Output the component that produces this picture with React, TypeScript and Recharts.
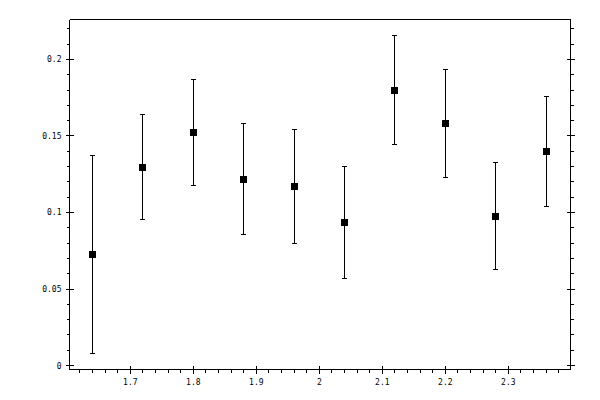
import { ScatterChart, Scatter, XAxis, YAxis, ErrorBar } from "recharts";

// measured points
const xValues = [1.64, 1.72, 1.8, 1.88, 1.96, 2.04, 2.12, 2.2, 2.28, 2.36];
const yValues = [0.0727, 0.1295, 0.1524, 0.1217, 0.1171, 0.0936, 0.1799, 0.1583, 0.0975, 0.14];
const yErrors = [0.0646, 0.0343, 0.0345, 0.0363, 0.0371, 0.0365, 0.0358, 0.0353, 0.0349, 0.0358];

// axis ticks
const xMajorTicks = [1.7, 1.8, 1.9, 2, 2.1, 2.2, 2.3];
const xMinorTicks = [
    1.62, 1.64, 1.66, 1.68, 1.72, 1.74, 1.76, 1.78, 1.82, 1.84, 1.86, 1.88,
    1.92, 1.94, 1.96, 1.98, 2.02, 2.04, 2.06, 2.08, 2.12, 2.14, 2.16, 2.18,
    2.22, 2.24, 2.26, 2.28, 2.32, 2.34, 2.36, 2.38,
];
const yMajorTicks = [0, 0.05, 0.1, 0.15, 0.2];
const yMinorTicks = [
    0.01, 0.02, 0.03, 0.04, 0.06, 0.07, 0.08, 0.09, 0.11, 0.12, 0.13, 0.14,
    0.16, 0.17, 0.18, 0.19, 0.21, 0.22,
];

const xDomain: [number, number] = [1.6035, 2.3987];
const yDomain: [number, number] = [-0.0026, 0.2261];

const xTicks = [...xMajorTicks, ...xMinorTicks].sort((a, b) => a - b);
const yTicks = [...yMajorTicks, ...yMinorTicks].sort((a, b) => a - b);

const data = xValues.map((x, i) => ({ x, y: yValues[i], err: yErrors[i] }));

type Side = "bottom" | "top" | "left" | "right";

const makeTick = (side: Side, majors: number[], showLabel: boolean) => (props: any) => {
    const { x, y, payload } = props;
    const major = majors.includes(payload.value);
    const line = { stroke: "#000", strokeWidth: 1, shapeRendering: "crispEdges" as const };
    let tick;
    if (side === "bottom") {
        tick = major ? <line x1={x} x2={x} y1={y - 4} y2={y + 4} {...line} /> : <line x1={x} x2={x} y1={y} y2={y + 3} {...line} />;
    } else if (side === "top") {
        tick = major ? <line x1={x} x2={x} y1={y - 4} y2={y + 4} {...line} /> : <line x1={x} x2={x} y1={y - 3} y2={y} {...line} />;
    } else if (side === "left") {
        tick = major ? <line x1={x - 4} x2={x + 4} y1={y} y2={y} {...line} /> : <line x1={x - 3} x2={x} y1={y} y2={y} {...line} />;
    } else {
        tick = major ? <line x1={x - 4} x2={x + 4} y1={y} y2={y} {...line} /> : <line x1={x} x2={x + 3} y1={y} y2={y} {...line} />;
    }
    let label = null;
    if (showLabel && major) {
        if (side === "bottom") {
            label = (
                <text x={x} y={y + 15} textAnchor="middle" fontSize={8} fill="#000" fontFamily="DejaVu Sans Mono">
                    {String(payload.value)}
                </text>
            );
        } else {
            label = (
                <text x={x - 8} y={y + 3} textAnchor="end" fontSize={8} fill="#000" fontFamily="DejaVu Sans Mono">
                    {String(payload.value)}
                </text>
            );
        }
    }
    return (
        <g>
            {tick}
            {label}
        </g>
    );
};

const Square = (props: any) => {
    const { cx, cy } = props;
    return <rect x={cx - 3.5} y={cy - 3.5} width={7} height={7} fill="#000" shapeRendering="crispEdges" />;
};

export default function App() {
    return (
        <div style={{ position: "absolute", left: 0, top: 0, width: 600, height: 400, background: "#fff" }}>
            <ScatterChart
                width={600}
                height={400}
                margin={{ top: 9.5, right: 9.5, bottom: 10.5, left: 9.5 }}
            >
                <XAxis
                    xAxisId="bottom"
                    type="number"
                    dataKey="x"
                    orientation="bottom"
                    domain={xDomain}
                    allowDataOverflow
                    ticks={xTicks}
                    interval={0}
                    height={20}
                    tickSize={0}
                    tickMargin={0}
                    tickLine={false}
                    axisLine={{ stroke: "#000", shapeRendering: "crispEdges" }}
                    tick={makeTick("bottom", xMajorTicks, true)}
                />
                <XAxis
                    xAxisId="top"
                    type="number"
                    orientation="top"
                    domain={xDomain}
                    allowDataOverflow
                    ticks={xTicks}
                    interval={0}
                    height={10}
                    tickSize={0}
                    tickMargin={0}
                    tickLine={false}
                    axisLine={{ stroke: "#000", shapeRendering: "crispEdges" }}
                    tick={makeTick("top", xMajorTicks, false)}
                />
                <YAxis
                    yAxisId="left"
                    type="number"
                    dataKey="y"
                    orientation="left"
                    domain={yDomain}
                    allowDataOverflow
                    ticks={yTicks}
                    interval={0}
                    width={60}
                    tickSize={0}
                    tickMargin={0}
                    tickLine={false}
                    axisLine={{ stroke: "#000", shapeRendering: "crispEdges" }}
                    tick={makeTick("left", yMajorTicks, true)}
                />
                <YAxis
                    yAxisId="right"
                    type="number"
                    orientation="right"
                    domain={yDomain}
                    allowDataOverflow
                    ticks={yTicks}
                    interval={0}
                    width={20}
                    tickSize={0}
                    tickMargin={0}
                    tickLine={false}
                    axisLine={{ stroke: "#000", shapeRendering: "crispEdges" }}
                    tick={makeTick("right", yMajorTicks, false)}
                />
                <Scatter
                    data={data}
                    xAxisId="bottom"
                    yAxisId="left"
                    shape={Square}
                    isAnimationActive={false}
                >
                    <ErrorBar
                        dataKey="err"
                        direction="y"
                        width={2.5}
                        stroke="#000"
                        strokeWidth={1}
                        shapeRendering="crispEdges"
                        isAnimationActive={false}
                    />
                </Scatter>
            </ScatterChart>
        </div>
    );
}
